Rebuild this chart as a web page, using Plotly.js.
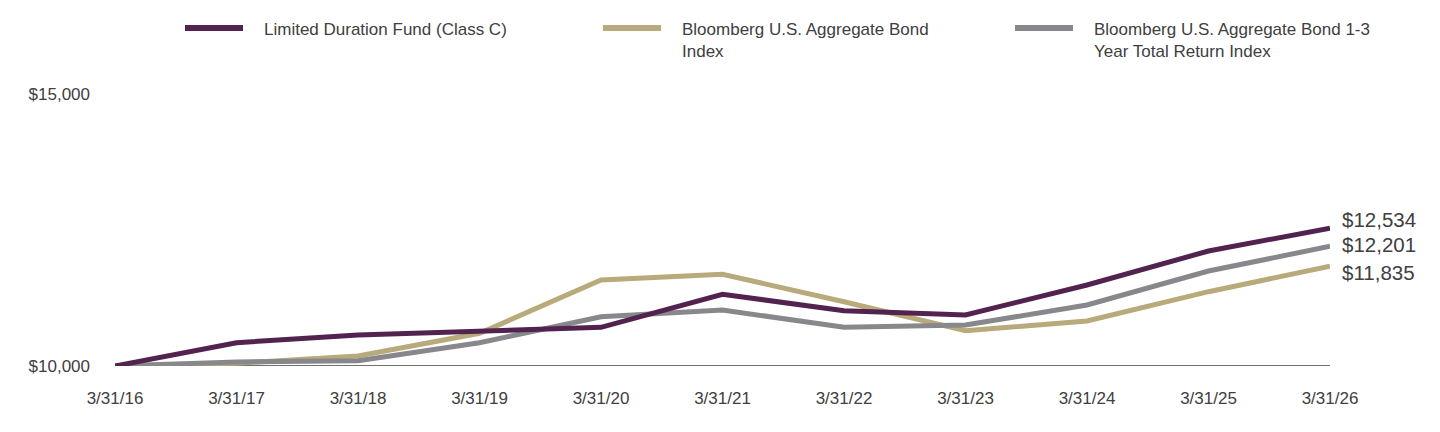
<!DOCTYPE html>
<html>
<head>
<meta charset="utf-8">
<script src="https://cdn.plot.ly/plotly-3.0.1.min.js"></script>
<style>html,body{margin:0;padding:0;background:#fff;}#chart{width:1440px;height:432px;}</style>
</head>
<body>
<div id="chart"></div>
<script>
const dates = ["3/31/16","3/31/17","3/31/18","3/31/19","3/31/20","3/31/21","3/31/22","3/31/23","3/31/24","3/31/25","3/31/26"];
const fundClassC = [10000,10428,10570,10643,10711,11318,11017,10938,11489,12114,12534];
const aggBond = [10000,10050,10184,10601,11581,11686,11182,10649,10827,11366,11835];
const aggBond13 = [10000,10074,10097,10428,10906,11029,10711,10754,11121,11746,12201];
const seriesNames = ["Limited Duration Fund (Class C)","Bloomberg U.S. Aggregate Bond<br>Index","Bloomberg U.S. Aggregate Bond 1-3<br>Year Total Return Index"];
const yTickVals = [10000,15000];
const yTickText = ["$10,000","$15,000"];

const colors = ["#52234f","#b8aa7a","#88888c"];
const W = 1440, H = 432, ML = 115, MR = 110, MT = 94, MB = 66;
const PW = W - ML - MR, PH = H - MT - MB;
const px2x = p => (p - ML) / PW;
const px2y = p => (H - MB - p) / PH;
const FONT = "'Liberation Sans Narrow', 'Arial Narrow', 'Liberation Sans', Arial, sans-serif";

const allSeries = [fundClassC, aggBond, aggBond13];
const traces = allSeries.map((s, i) => ({
  x: dates, y: s, type: 'scatter', mode: 'lines', name: seriesNames[i],
  line: {color: colors[i], width: 5}, showlegend: false, hoverinfo: 'skip'
}));
// draw order: tan, gray, purple on top
const ordered = [traces[1], traces[2], traces[0]];

const shapes = [{
  type: 'line', xref: 'paper', yref: 'y', x0: 0, x1: 1, y0: 10000, y1: 10000,
  line: {color: '#3f3f3f', width: 1.5}, layer: 'below'
}];
const annotations = [];
// manual legend
const legLineX = [185, 603, 1015];
legLineX.forEach((lx, i) => {
  shapes.push({type: 'line', xref: 'paper', yref: 'paper', x0: px2x(lx), x1: px2x(lx + 58),
    y0: px2y(28), y1: px2y(28), line: {color: colors[i], width: 6}});
  annotations.push({xref: 'paper', yref: 'paper', x: px2x(lx + 77), y: px2y(18), xanchor: 'left', yanchor: 'top',
    text: seriesNames[i], showarrow: false, align: 'left',
    font: {family: FONT, size: 17, color: '#404040'}});
});
// end labels (fund, agg, agg 1-3), nudged apart vertically
const endShift = [9, -6, 2];
allSeries.forEach((s, i) => {
  annotations.push({x: dates[dates.length - 1], y: s[s.length - 1], xref: 'x', yref: 'y',
    xanchor: 'left', yanchor: 'middle', xshift: 10, yshift: endShift[i],
    text: '$' + s[s.length - 1].toLocaleString('en-US'), showarrow: false,
    font: {family: "'Liberation Sans', Arial, sans-serif", size: 20.5, color: '#404040'}});
});

const layout = {
  width: W, height: H,
  margin: {l: ML, r: MR, t: MT, b: MB, pad: 0},
  paper_bgcolor: '#ffffff', plot_bgcolor: '#ffffff',
  showlegend: false,
  font: {family: FONT, size: 17, color: '#404040'},
  xaxis: {type: 'category', range: [0, dates.length - 1], showgrid: false, zeroline: false,
    showline: false, ticks: '', ticklabelstandoff: 20, tickfont: {family: FONT, size: 17, color: '#404040'},
    fixedrange: true},
  yaxis: {range: [10000, 15000], tickvals: yTickVals, ticktext: yTickText, showgrid: false,
    zeroline: false, showline: false, ticks: '', ticklabelstandoff: 24,
    tickfont: {family: FONT, size: 17, color: '#404040'}, fixedrange: true},
  shapes: shapes, annotations: annotations
};
Plotly.newPlot('chart', ordered, layout, {staticPlot: true, displayModeBar: false});
</script>
</body>
</html>
